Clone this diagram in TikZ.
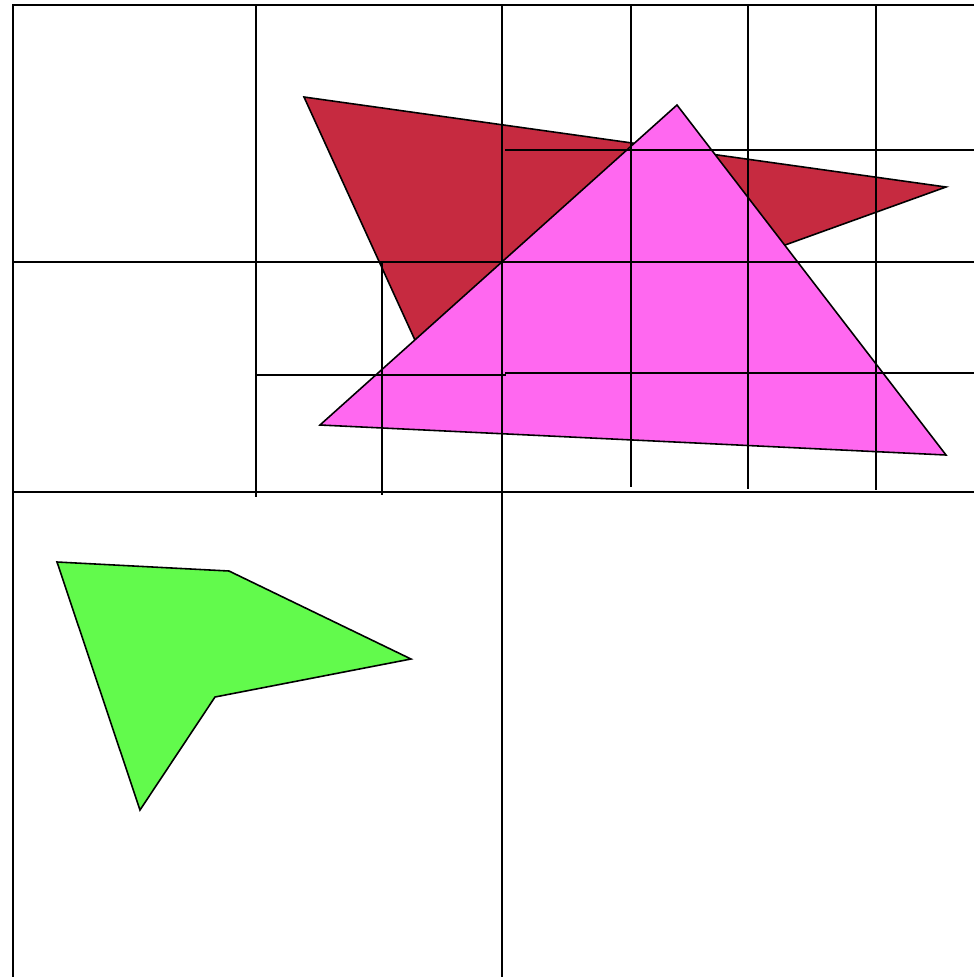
\documentclass[tikz,border=0pt]{standalone}
\usepackage{tikz}
\definecolor{colRed}{RGB}{198,42,64}
\definecolor{colPink}{RGB}{255,104,240}
\definecolor{colGreen}{RGB}{98,250,76}

\begin{document}
\begin{tikzpicture}[x=0.1mm, y=-0.1mm,
  poly/.style={draw=black, line width=0.45pt, line join=miter},
  cell/.style={draw=black, line width=0.7pt}]
  \useasboundingbox (0,0) rectangle (974,977);
  % polygons
  \draw[poly, fill=colRed] (304,97) -- (946,187) -- (430,373) -- cycle;
  \draw[poly, fill=colPink] (677,105) -- (946,455) -- (320,425) -- cycle;
  \draw[poly, fill=colGreen] (57,562) -- (229,571) -- (411,659) -- (215,697) -- (140,810) -- cycle;
  % subdivision
  \draw[cell] (974,5) -- (13,5) -- (13,977);
  \draw[cell] (13,262) -- (974,262);
  \draw[cell] (13,492) -- (974,492);
  \draw[cell] (502,5) -- (502,977);
  \draw[cell] (256,5) -- (256,497);
  \draw[cell] (382,262) -- (382,495);
  \draw[cell] (256,375) -- (506,375);
  \draw[cell] (505,150) -- (974,150);
  \draw[cell] (505,373) -- (974,373);
  \foreach \x/\y in {631/487, 748/489, 876/490}
    \draw[cell] (\x,5) -- (\x,\y);
\end{tikzpicture}
\end{document}
